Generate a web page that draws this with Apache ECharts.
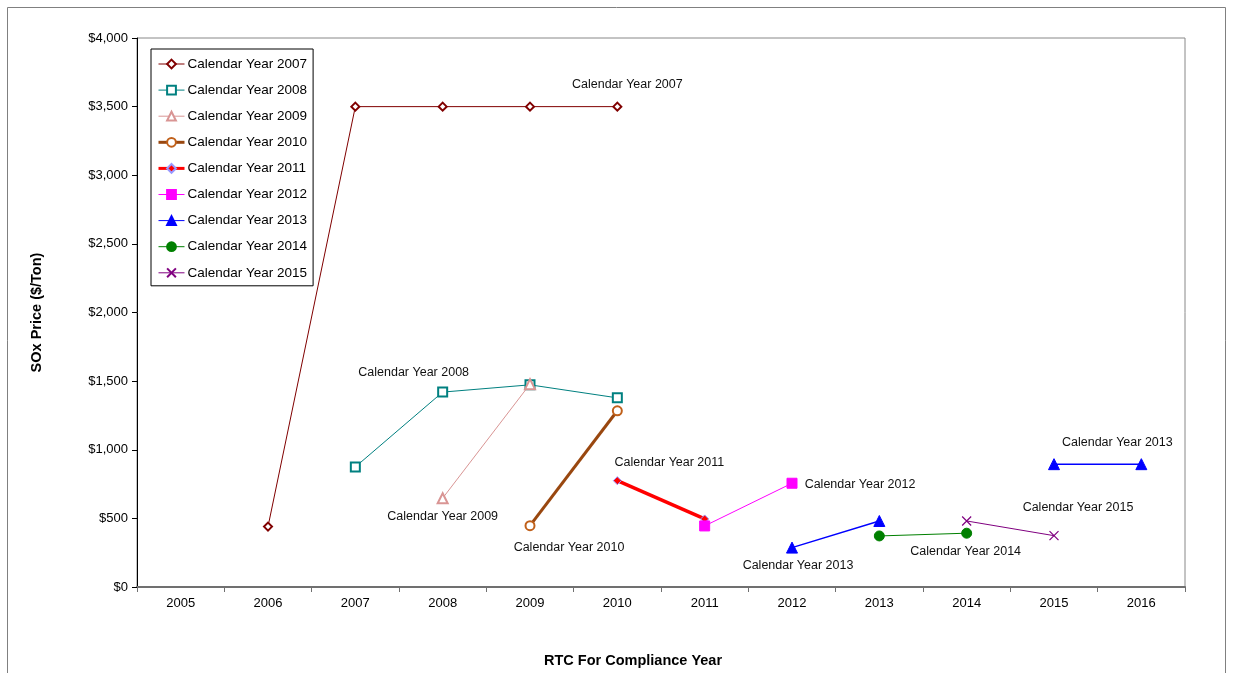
<!DOCTYPE html>
<html>
<head>
<meta charset="utf-8">
<script src="https://cdn.jsdelivr.net/npm/echarts@6/dist/echarts.min.js"></script>
<style>
  html, body { margin: 0; padding: 0; background: #fff; }
  #chart { width: 1233px; height: 673px; }
</style>
</head>
<body>
<div id="chart"></div>
<script>
// Compliance years on the x axis
const years = ['2005', '2006', '2007', '2008', '2009', '2010', '2011', '2012', '2013', '2014', '2015', '2016'];

// SOx RTC prices ($/ton) traded in each calendar year, by compliance year
const cy2007 = [null, 440, 3500, 3500, 3500, 3500, null, null, null, null, null, null];
const cy2008 = [null, null, 875, 1420, 1473, 1378, null, null, null, null, null, null];
const cy2009 = [null, null, null, 647, 1478, null, null, null, null, null, null, null];
const cy2010 = [null, null, null, null, 447, 1284, null, null, null, null, null, null];
const cy2011 = [null, null, null, null, null, 775, 496, null, null, null, null, null];
const cy2012 = [null, null, null, null, null, null, 445, 756, null, null, null, null];
const cy2013 = [null, null, null, null, null, null, null, 287, 481, null, 895, 895];
const cy2014 = [null, null, null, null, null, null, null, null, 372, 392, null, null];
const cy2015 = [null, null, null, null, null, null, null, null, null, 481, 374, null];

const seriesNames = [
  'Calendar Year 2007', 'Calendar Year 2008', 'Calendar Year 2009',
  'Calendar Year 2010', 'Calendar Year 2011', 'Calendar Year 2012',
  'Calendar Year 2013', 'Calendar Year 2014', 'Calendar Year 2015'
];
const seriesValues = [cy2007, cy2008, cy2009, cy2010, cy2011, cy2012, cy2013, cy2014, cy2015];

// Look of each series
const styles = [
  { color: '#800000', width: 1,   symbol: 'emptyDiamond',  size: 8 },
  { color: '#008080', width: 1,   symbol: 'emptyRect',     size: 9 },
  { color: '#D99594', width: 1,   symbol: 'emptyTriangle', size: 10 },
  { color: '#99470F', width: 3,   symbol: 'emptyCircle',   size: 9, symbolColor: '#C0601A' },
  { color: '#FF0000', width: 3.5, symbol: 'diamond',       size: 8, border: '#9999FF' },
  { color: '#FF00FF', width: 1,   symbol: 'rect',          size: 10 },
  { color: '#0000FF', width: 1.5, symbol: 'triangle',      size: 11 },
  { color: '#008000', width: 1,   symbol: 'circle',        size: 10 },
  { color: '#800080', width: 1,   symbol: 'path://M0,0L10,10M10,0L0,10', size: 9, cross: true }
];

// Series-name callouts: [series index, category index, dx, dy]
const callouts = [
  [0, 5, 10, -22],
  [1, 3, -29, -20],
  [2, 3, 0, 18],
  [3, 4, 39, 22],
  [4, 5, 52, -18],
  [5, 7, 68, 1],
  [6, 7, 6, 18],
  [6, 11, -24, -22],
  [7, 9, -1, 18],
  [8, 10, 24, -28]
];

const FONT = 'Liberation Sans, Arial, sans-serif';

const series = seriesValues.map((vals, si) => {
  const st = styles[si];
  const data = vals.map((v, ci) => {
    const c = callouts.find(a => a[0] === si && a[1] === ci);
    if (!c || v === null) return v;
    return {
      value: v,
      label: {
        show: true,
        position: 'inside',
        align: 'center',
        verticalAlign: 'middle',
        offset: [c[2], c[3]],
        formatter: seriesNames[si],
        color: '#111',
        fontFamily: FONT,
        fontSize: 12.5
      }
    };
  });
  const itemStyle = st.cross
    ? { color: 'rgba(0,0,0,0)', borderColor: st.color, borderWidth: 1.2 }
    : { color: st.symbolColor || st.color, borderColor: st.border || st.symbolColor || st.color, borderWidth: 1 };
  return {
    name: seriesNames[si],
    type: 'line',
    data: data,
    connectNulls: false,
    symbol: st.symbol,
    symbolSize: st.size,
    showAllSymbol: true,
    lineStyle: { color: st.color, width: st.width },
    itemStyle: itemStyle,
    emphasis: { disabled: true },
    z: 2 + si
  };
});

const chart = echarts.init(document.getElementById('chart'), null, { renderer: 'canvas' });
chart.setOption({
  animation: false,
  backgroundColor: '#fff',
  grid: {
    left: 137, right: 48, top: 38, bottom: 86,
    outerBoundsMode: 'none',
    containLabel: false,
    show: true, borderColor: '#888', borderWidth: 1
  },
  legend: {
    orient: 'vertical',
    left: 151, top: 49,
    padding: [8, 6, 6, 6],
    itemWidth: 26, itemHeight: 11,
    itemGap: 12.1,
    borderColor: '#000', borderWidth: 1,
    backgroundColor: '#fff',
    textStyle: { fontFamily: FONT, fontSize: 13.5, color: '#000', padding: [0, 0, 0, -2] },
    data: seriesNames.map((n, i) => ({
      name: n,
      lineStyle: { width: styles[i].width >= 3 ? 3 : 1 }
    }))
  },
  xAxis: {
    type: 'category',
    data: years,
    boundaryGap: true,
    axisLine: { lineStyle: { color: '#707070', width: 2 } },
    axisTick: { show: true, length: 5, lineStyle: { color: '#707070', width: 1 } },
    axisLabel: { color: '#000', fontFamily: FONT, fontSize: 13, margin: 10 },
    splitLine: { show: false },
    name: 'RTC For Compliance Year',
    nameLocation: 'middle',
    nameGap: 66,
    nameTextStyle: { fontFamily: FONT, fontSize: 14.5, fontWeight: 'bold', color: '#000', padding: [0, 56, 0, 0] }
  },
  yAxis: {
    type: 'value',
    min: 0, max: 4000, interval: 500,
    axisLine: { show: true, lineStyle: { color: '#000', width: 1 } },
    axisTick: { show: true, length: 5, lineStyle: { color: '#000' } },
    axisLabel: {
      color: '#000', fontFamily: FONT, fontSize: 13, margin: 9,
      formatter: v => '$' + v.toLocaleString('en-US')
    },
    splitLine: { show: false },
    name: 'SOx Price ($/Ton)',
    nameLocation: 'middle',
    nameGap: 93,
    nameTextStyle: { fontFamily: FONT, fontSize: 14.5, fontWeight: 'bold', color: '#000' }
  },
  graphic: [{
    type: 'rect',
    shape: { x: 7.5, y: 7.5, width: 1218, height: 700 },
    style: { fill: 'none', stroke: '#808080', lineWidth: 1 },
    silent: true,
    z: -1
  }],
  series: series
});
</script>
</body>
</html>
